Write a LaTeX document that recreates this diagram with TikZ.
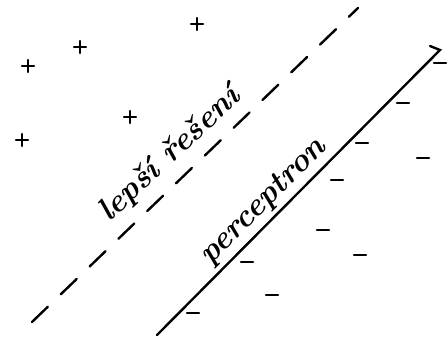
\documentclass[tikz,border=0pt]{standalone}
\usepackage{fontspec}

\begin{document}
\begin{tikzpicture}[
  x=1pt,y=-1pt,
  line cap=round,
  ink/.style={line width=2.4pt},
  better/.style={ink,dash pattern=on 22pt off 18pt},
  tick/.style={line width=2.2pt},
  hand/.style={font=\fontsize{32}{36}\selectfont\bfseries\itshape,inner sep=1pt}
]
  \useasboundingbox (0,0) rectangle (448,341);
  % lines
  \coordinate (b0) at (32,322);
  \coordinate (b1) at (358,8);
  \coordinate (p0) at (157,335);
  \coordinate (p1) at (440,50);
  \draw[better] (b0) -- (b1);
  \draw[ink] (p0) -- (p1) -- ++(-10,-4);
  % labels
  \node[hand,rotate=43] (better) at (170,155) {lepší řešení};
  \node[hand,rotate=45] (perc) at (264,202) {perceptron};
  % class +
  \foreach \x/\y in {28/66,80/47,197/24,130/117,22/140}
    \draw[tick] (\x-6,\y) -- (\x+6,\y) (\x,\y-6) -- (\x,\y+6);
  % class -
  \foreach \x/\y in {440/63,403/103,362/143,423/158,337/180,323/230,360/255,247/262,272/295,193/313}
    \draw[tick] (\x-6,\y) -- (\x+6,\y);
\end{tikzpicture}
\end{document}
